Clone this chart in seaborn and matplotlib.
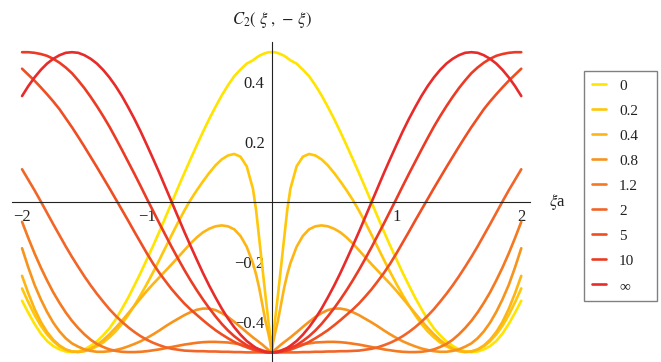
import matplotlib
matplotlib.use("Agg")
import matplotlib.pyplot as plt
import numpy as np
import pandas as pd
import seaborn as sns
from matplotlib.ticker import FixedLocator, MultipleLocator

# positive half of the abscissa (curves are symmetric in xi)
xi_half = [0, 0.01, 0.025, 0.05, 0.075, 0.1, 0.125, 0.15,
           0.2, 0.25, 0.3, 0.35, 0.4, 0.45, 0.5, 0.55, 0.6, 0.65, 0.7, 0.75, 0.8, 0.85,
           0.9, 0.95, 1.0, 1.05, 1.1, 1.15, 1.2, 1.25, 1.3, 1.35, 1.4, 1.45, 1.5, 1.55,
           1.6, 1.65, 1.7, 1.75, 1.8, 1.85, 1.9, 1.95, 2.0]

c_0 = [0.5, 0.5, 0.5, 0.497, 0.493, 0.488, 0.481, 0.473,
       0.462, 0.442, 0.42, 0.39, 0.356, 0.318, 0.278, 0.235, 0.19, 0.144, 0.097, 0.049, 0.0,
       -0.049, -0.098, -0.145, -0.19, -0.235, -0.277, -0.318, -0.355, -0.39, -0.42, -0.443,
       -0.463, -0.478, -0.49, -0.497, -0.499, -0.497, -0.49, -0.479, -0.462, -0.437, -0.405,
       -0.368, -0.328]
c_02 = [-0.5, -0.45, -0.4, -0.31, -0.215, -0.12, -0.025, 0.045,
        0.12, 0.152, 0.161, 0.156, 0.143, 0.123, 0.098, 0.07, 0.04, 0.008, -0.028, -0.067,
        -0.108, -0.15, -0.192, -0.233, -0.272, -0.309, -0.344, -0.376, -0.405, -0.43, -0.45,
        -0.467, -0.48, -0.49, -0.496, -0.498, -0.497, -0.491, -0.48, -0.463, -0.44, -0.411,
        -0.375, -0.333, -0.287]
c_04 = [-0.5, -0.47, -0.44, -0.395, -0.34, -0.285, -0.24, -0.203,
        -0.148, -0.112, -0.09, -0.08, -0.077, -0.08, -0.088, -0.1, -0.117, -0.137, -0.16,
        -0.183, -0.206, -0.228, -0.25, -0.272, -0.295, -0.32, -0.345, -0.37, -0.395, -0.418,
        -0.44, -0.459, -0.475, -0.487, -0.495, -0.499, -0.497, -0.49, -0.477, -0.458, -0.432,
        -0.398, -0.355, -0.303, -0.245]
c_08 = [-0.5, -0.497, -0.492, -0.483, -0.474, -0.466, -0.458, -0.45,
        -0.433, -0.415, -0.398, -0.382, -0.369, -0.359, -0.354, -0.354, -0.358, -0.366, -0.376,
        -0.388, -0.4, -0.413, -0.427, -0.44, -0.452, -0.463, -0.472, -0.48, -0.487, -0.492,
        -0.496, -0.498, -0.498, -0.495, -0.49, -0.481, -0.47, -0.453, -0.43, -0.401, -0.365,
        -0.323, -0.275, -0.217, -0.153]
c_12 = [-0.5, -0.499, -0.498, -0.496, -0.493, -0.49, -0.487, -0.484,
        -0.478, -0.473, -0.47, -0.467, -0.466, -0.465, -0.465, -0.466, -0.468, -0.471, -0.474,
        -0.478, -0.482, -0.486, -0.49, -0.493, -0.496, -0.498, -0.499, -0.499, -0.498, -0.495,
        -0.49, -0.482, -0.472, -0.458, -0.44, -0.419, -0.395, -0.367, -0.335, -0.3, -0.26,
        -0.217, -0.17, -0.119, -0.065]
c_2 = [-0.5, -0.5, -0.5, -0.5, -0.5, -0.5, -0.5, -0.5,
       -0.5, -0.499, -0.499, -0.498, -0.498, -0.497, -0.497, -0.496, -0.496, -0.495, -0.494,
       -0.491, -0.488, -0.483, -0.476, -0.468, -0.458, -0.446, -0.432, -0.416, -0.398, -0.378,
       -0.356, -0.331, -0.305, -0.277, -0.247, -0.215, -0.182, -0.147, -0.11, -0.073, -0.035,
       0.003, 0.04, 0.075, 0.11]
c_5 = [-0.5, -0.5, -0.5, -0.499, -0.498, -0.496, -0.494, -0.491,
       -0.483, -0.475, -0.465, -0.453, -0.44, -0.426, -0.41, -0.393, -0.375, -0.357, -0.337,
       -0.314, -0.29, -0.263, -0.235, -0.204, -0.17, -0.134, -0.098, -0.061, -0.025, 0.011,
       0.047, 0.082, 0.117, 0.151, 0.185, 0.218, 0.25, 0.28, 0.31, 0.336, 0.36, 0.383, 0.405,
       0.425, 0.445]
c_10 = [-0.5, -0.5, -0.5, -0.499, -0.497, -0.494, -0.491, -0.486,
        -0.476, -0.462, -0.446, -0.427, -0.405, -0.38, -0.353, -0.324, -0.293, -0.26, -0.225,
        -0.188, -0.15, -0.11, -0.07, -0.029, 0.012, 0.054, 0.095, 0.135, 0.175, 0.214, 0.252,
        0.287, 0.32, 0.351, 0.38, 0.406, 0.43, 0.449, 0.465, 0.478, 0.488, 0.494, 0.498, 0.5,
        0.5]
c_inf = [-0.5, -0.5, -0.499, -0.498, -0.495, -0.49, -0.485, -0.478,
         -0.462, -0.441, -0.416, -0.387, -0.354, -0.317, -0.278, -0.236, -0.191, -0.145, -0.098,
         -0.049, 0.0, 0.049, 0.098, 0.145, 0.191, 0.236, 0.278, 0.317, 0.354, 0.387, 0.416,
         0.441, 0.462, 0.478, 0.49, 0.498, 0.5, 0.498, 0.49, 0.478, 0.462, 0.441, 0.416, 0.387,
         0.354]

labels = ["0", "0.2", "0.4", "0.8", "1.2", "2", "5", "10", "\u221e"]
colors = ["#FFE400", "#FFC60A", "#FDB515", "#F7941E", "#F47920", "#F26529",
          "#EF4E23", "#EC3B24", "#E82B2A"]
x_ticks = [-2, -1, 1, 2]
y_ticks = [-0.4, -0.2, 0.2, 0.4]

curves = [c_0, c_02, c_04, c_08, c_12, c_2, c_5, c_10, c_inf]

rows = []
for lab, ys in zip(labels, curves):
    xs_full = [-v for v in xi_half[:0:-1]] + list(xi_half)
    ys_full = list(ys[:0:-1]) + list(ys)
    for x, y in zip(xs_full, ys_full):
        rows.append((lab, x, y))
df = pd.DataFrame(rows, columns=["a", "xi", "C2"])

sns.set_style("white")
plt.rcParams["font.family"] = ["Liberation Serif", "DejaVu Serif"]
plt.rcParams["mathtext.fontset"] = "stix"
plt.rcParams["axes.unicode_minus"] = True

W, H = 661, 362
fig = plt.figure(figsize=(W / 100, H / 100), dpi=100)
ax = fig.add_axes([11.7 / W, 0, (530 - 11.7) / W, (H - 42.3) / H])

sns.lineplot(data=df, x="xi", y="C2", hue="a", hue_order=labels, palette=colors,
             estimator=None, sort=False, linewidth=1.9, ax=ax, legend=True)

ax.set_xlim(-2.083, 2.07)
ax.set_ylim(-0.532, 0.533)
ax.set_xlabel("")
ax.set_ylabel("")

for s in ("top", "right"):
    ax.spines[s].set_visible(False)
for s in ("left", "bottom"):
    ax.spines[s].set_position(("data", 0))
    ax.spines[s].set_color("#222222")
    ax.spines[s].set_linewidth(0.8)

ax.xaxis.set_major_locator(FixedLocator(x_ticks))
ax.xaxis.set_minor_locator(MultipleLocator(0.2))
ax.yaxis.set_major_locator(FixedLocator(y_ticks))
ax.yaxis.set_minor_locator(MultipleLocator(0.05))
ax.set_xticklabels([f"{v:g}".replace("-", "\u2212") for v in x_ticks])
ax.set_yticklabels([f"{v:g}".replace("-", "\u2212") for v in y_ticks])
ax.tick_params(which="major", direction="in", length=4.8, width=0.8, color="#222222",
               labelsize=12, labelcolor="#222222")
ax.tick_params(which="minor", direction="in", length=2.7, width=0.8, color="#222222")
ax.tick_params(axis="x", which="major", pad=5)
ax.tick_params(axis="y", which="major", pad=5)

fig.text(271.7 / W, 1 - 20 / H, r"$C_2(\ \xi\ ,\,-\,\xi)$", ha="center", va="center",
         fontsize=12, color="#222222")
fig.text(549 / W, 1 - 202.3 / H, r"$\xi$a", ha="left", va="center", fontsize=12,
         color="#222222")

handles, labs = ax.get_legend_handles_labels()
ax.get_legend().remove()
leg = fig.legend(handles, labs, loc="upper left",
                 bbox_to_anchor=(584 / W, (H - 300) / H, (657.3 - 584) / W, (300 - 70.7) / H),
                 mode="expand", fontsize=11, frameon=True, fancybox=False,
                 edgecolor="#808080", framealpha=1, borderpad=0.55, labelspacing=0.74,
                 handlelength=0.9, handletextpad=0.85, borderaxespad=0)
leg.get_frame().set_linewidth(1.0)
for t in leg.get_texts():
    t.set_color("#222222")

fig.savefig("out.png", dpi=100)
